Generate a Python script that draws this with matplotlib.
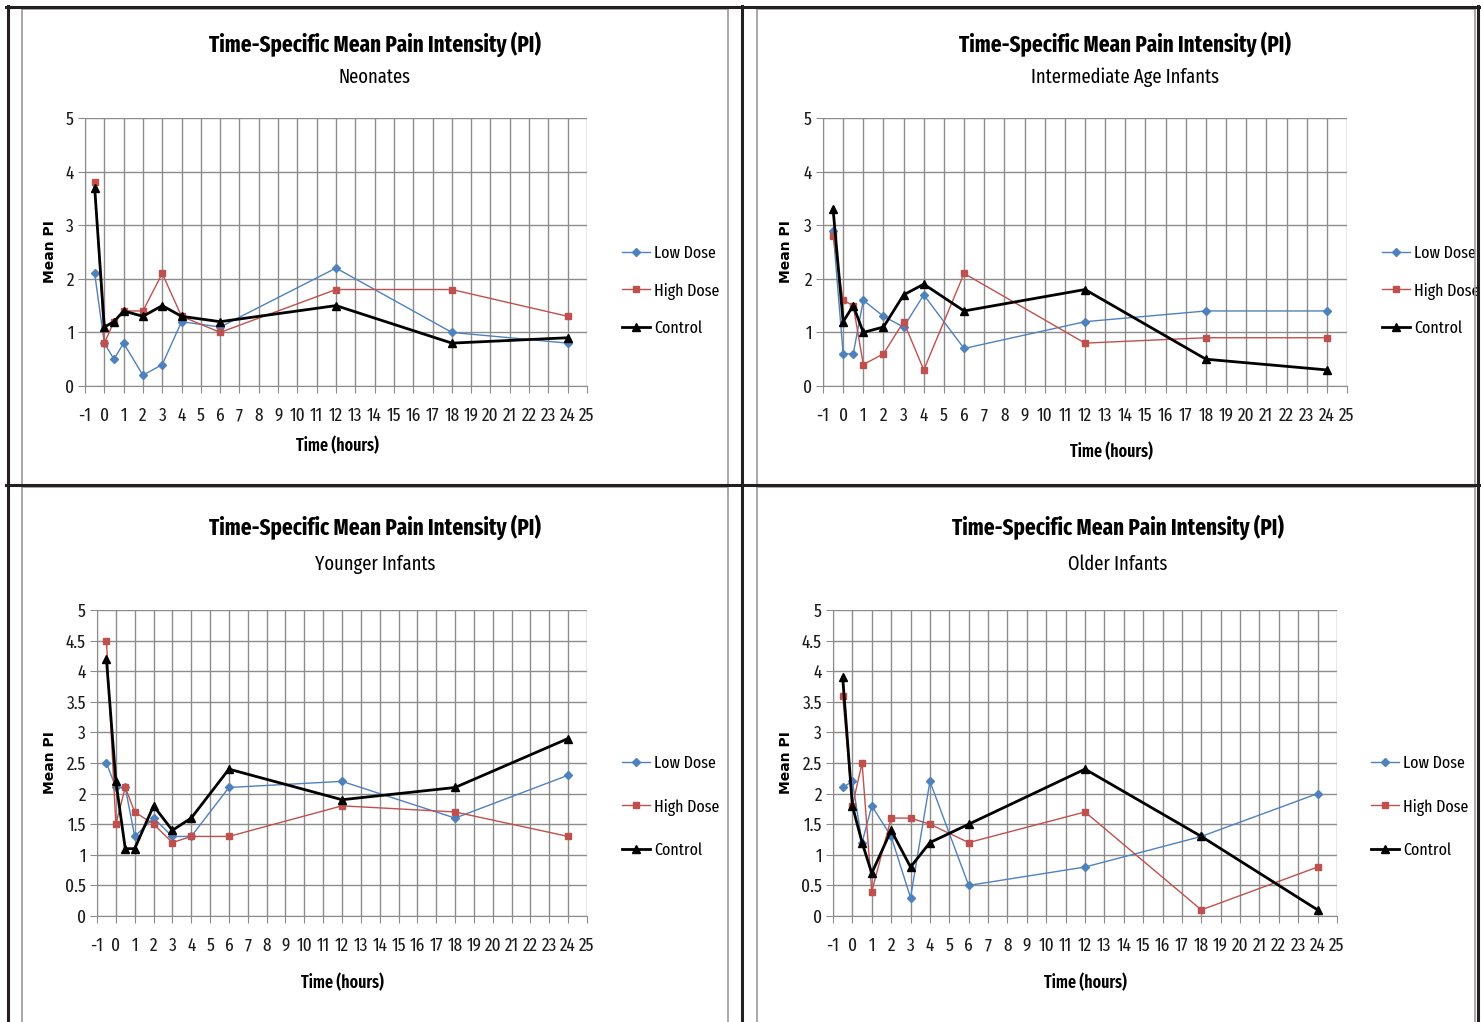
import matplotlib
matplotlib.use('Agg')
import matplotlib.pyplot as plt
from matplotlib.lines import Line2D

plt.rcParams['axes.unicode_minus'] = False
NARROW = ['Fira Sans Extra Condensed', 'DejaVu Sans']

W, H = 1481, 1022

# datos
times = [-0.5, 0, 0.5, 1, 2, 3, 4, 6, 12, 18, 24]
series_names = ['Low Dose', 'High Dose', 'Control']

neonates_low = [2.1, 0.8, 0.5, 0.8, 0.2, 0.4, 1.2, 1.1, 2.2, 1.0, 0.8]
neonates_high = [3.8, 0.8, 1.2, 1.4, 1.4, 2.1, 1.3, 1.0, 1.8, 1.8, 1.3]
neonates_ctrl = [3.7, 1.1, 1.2, 1.4, 1.3, 1.5, 1.3, 1.2, 1.5, 0.8, 0.9]

intermediate_low = [2.9, 0.6, 0.6, 1.6, 1.3, 1.1, 1.7, 0.7, 1.2, 1.4, 1.4]
intermediate_high = [2.8, 1.6, 1.5, 0.4, 0.6, 1.2, 0.3, 2.1, 0.8, 0.9, 0.9]
intermediate_ctrl = [3.3, 1.2, 1.5, 1.0, 1.1, 1.7, 1.9, 1.4, 1.8, 0.5, 0.3]

younger_low = [2.5, 2.1, 2.1, 1.3, 1.6, 1.3, 1.3, 2.1, 2.2, 1.6, 2.3]
younger_high = [4.5, 1.5, 2.1, 1.7, 1.5, 1.2, 1.3, 1.3, 1.8, 1.7, 1.3]
younger_ctrl = [4.2, 2.2, 1.1, 1.1, 1.8, 1.4, 1.6, 2.4, 1.9, 2.1, 2.9]

older_low = [2.1, 2.2, 1.2, 1.8, 1.3, 0.3, 2.2, 0.5, 0.8, 1.3, 2.0]
older_high = [3.6, 1.8, 2.5, 0.4, 1.6, 1.6, 1.5, 1.2, 1.7, 0.1, 0.8]
older_ctrl = [3.9, 1.8, 1.2, 0.7, 1.4, 0.8, 1.2, 1.5, 2.4, 1.3, 0.1]

subtitles = ['Neonates', 'Intermediate Age Infants', 'Younger Infants', 'Older Infants']
x_ticks = list(range(-1, 26))
y_ticks_top = [0, 1, 2, 3, 4, 5]
y_ticks_bottom = [0, 0.5, 1, 1.5, 2, 2.5, 3, 3.5, 4, 4.5, 5]

panels = [
    (neonates_low, neonates_high, neonates_ctrl),
    (intermediate_low, intermediate_high, intermediate_ctrl),
    (younger_low, younger_high, younger_ctrl),
    (older_low, older_high, older_ctrl),
]

# layout en pixeles: (x izq, x der, y arriba, y abajo) del area de trazado
areas = [(85, 587, 118, 386), (823, 1347, 118, 386), (97, 587, 610, 916), (833, 1337, 610, 916)]
title_pos = [(375, 44, 77), (1125, 44, 77), (375, 527, 564), (1118, 527, 564)]
ylabel_pos = [(50, 252), (786, 252), (50, 763), (786, 763)]
xlabel_pos = [(337, 446), (1111, 452), (342, 983), (1085, 983)]
legend_pos = [(613, 291, 1.2), (1373, 291, 1.2), (613, 807, 1.55), (1362, 807, 1.55)]

colors = ['#4F81BD', '#C0504D', '#000000']
markers = ['D', 's', '^']
msizes = [4.5, 4.5, 5.5]
lwidths = [1.0, 1.0, 2.0]


def fx(px):
    return px / W


def fy(py):
    return 1 - py / H


fig = plt.figure(figsize=(W / 100, H / 100), dpi=100)

for i, (series, area) in enumerate(zip(panels, areas)):
    x0, x1, y0, y1 = area
    ax = fig.add_axes([fx(x0), fy(y1), fx(x1 - x0), (y1 - y0) / H])
    for vals, name, c, m, ms, lw in zip(series, series_names, colors, markers, msizes, lwidths):
        ax.plot(times, vals, color=c, marker=m, markersize=ms, linewidth=lw, label=name)
    yt = y_ticks_top if i < 2 else y_ticks_bottom
    ax.set_xlim(-1, 25)
    ax.set_ylim(0, 5)
    ax.set_xticks(x_ticks)
    ax.set_xticklabels([str(v) for v in x_ticks])
    ax.set_yticks(yt)
    ax.set_yticklabels(['%g' % v for v in yt])
    ax.grid(True, color='#8c8c8c', linewidth=1.0)
    ax.set_axisbelow(True)
    for s in ['top', 'right']:
        ax.spines[s].set_visible(False)
    for s in ['left', 'bottom']:
        ax.spines[s].set_color('#8c8c8c')
    ax.tick_params(axis='both', length=5, color='#8c8c8c', labelsize=13.5, pad=3, labelcolor='#1a1a1a')
    ax.tick_params(axis='x', pad=10)
    for lab in ax.get_xticklabels() + ax.get_yticklabels():
        lab.set_fontfamily(NARROW)

    lx, ly, sp = legend_pos[i]
    ax.legend(loc='center left', bbox_to_anchor=(fx(lx), fy(ly)), bbox_transform=fig.transFigure,
              frameon=False, handlelength=1.65, handletextpad=0.2, labelspacing=sp,
              prop={'family': NARROW, 'size': 12.5}, borderpad=0)

    tx, ty1, ty2 = title_pos[i]
    fig.text(fx(tx), fy(ty1), 'Time-Specific Mean Pain Intensity (PI)', ha='center', va='center',
             fontsize=16.5, fontweight='bold', family=NARROW)
    fig.text(fx(tx), fy(ty2), subtitles[i], ha='center', va='center', fontsize=14.5, family=NARROW)
    yx, yy = ylabel_pos[i]
    fig.text(fx(yx), fy(yy), 'Mean PI', rotation=90, ha='center', va='center',
             fontsize=10, fontweight='bold', family='DejaVu Sans')
    xx, xy = xlabel_pos[i]
    fig.text(fx(xx), fy(xy), 'Time (hours)', ha='center', va='center',
             fontsize=12.5, fontweight='semibold', family=NARROW)


# marcos de la tabla
def hline(py, xa, xb, color, lw):
    fig.add_artist(Line2D([fx(xa), fx(xb)], [fy(py), fy(py)], color=color, linewidth=lw))


def vline(px, ya, yb, color, lw):
    fig.add_artist(Line2D([fx(px), fx(px)], [fy(ya), fy(yb)], color=color, linewidth=lw))


gray = '#9a9a9a'
vline(22, 9, 1022, gray, 1.2)
vline(728, 9, 1022, gray, 1.2)
vline(757, 9, 1022, gray, 1.2)
vline(1475, 9, 1022, gray, 1.2)
hline(9.5, 22, 728, gray, 1.2)
hline(9.5, 757, 1475, gray, 1.2)
hline(487, 22, 728, gray, 1.2)
hline(487, 757, 1475, gray, 1.2)

dark = '#231f20'
hline(7, 6, 1480, dark, 2.2)
hline(484.5, 6, 1480, dark, 2.2)
vline(7.5, 6, 1022, dark, 2.2)
vline(742, 6, 1022, dark, 2.2)
vline(1478, 6, 1022, dark, 2.2)

fig.savefig('out.png', dpi=100)
